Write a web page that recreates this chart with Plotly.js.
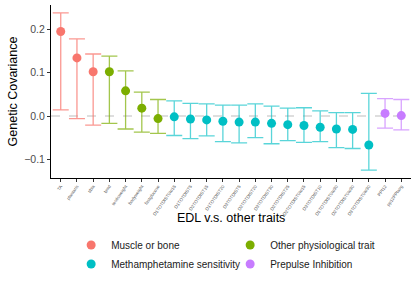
<!DOCTYPE html>
<html>
<head>
<meta charset="utf-8">
<script src="https://cdn.plot.ly/plotly-3.0.1.min.js"></script>
<style>html,body{margin:0;padding:0;background:#fff;}#chart{width:415px;height:291px;}</style>
</head>
<body>
<div id="chart"></div>
<script>
// ---- data ----
var traits = ["TA", "plantaris", "tibia", "bmd", "testisweight", "bodyweight", "fastglucose",
  "D1TOTDIST0to15", "D1TOTDIST5", "D2TOTDIST15", "D1TOTDIST20", "D3TOTDIST5", "D2TOTDIST20",
  "D3TOTDIST30", "D2TOTDIST25", "D2TOTDIST0to15", "D3TOTDIST10", "D1TOTDIST0to30",
  "D2TOTDIST0to30", "D3TOTDIST0to30", "PPI12", "pp12PPIavg"];
var groups = ["Muscle or bone", "Muscle or bone", "Muscle or bone",
  "Other physiological trait", "Other physiological trait", "Other physiological trait", "Other physiological trait",
  "Methamphetamine sensitivity", "Methamphetamine sensitivity", "Methamphetamine sensitivity",
  "Methamphetamine sensitivity", "Methamphetamine sensitivity", "Methamphetamine sensitivity",
  "Methamphetamine sensitivity", "Methamphetamine sensitivity", "Methamphetamine sensitivity",
  "Methamphetamine sensitivity", "Methamphetamine sensitivity", "Methamphetamine sensitivity",
  "Methamphetamine sensitivity", "Prepulse Inhibition", "Prepulse Inhibition"];
var covariance = [0.195, 0.134, 0.102, 0.102, 0.058, 0.018, -0.006, -0.002, -0.007, -0.009,
  -0.012, -0.014, -0.014, -0.017, -0.020, -0.022, -0.026, -0.030, -0.031, -0.067, 0.006, 0.001];
var lower = [0.014, -0.006, -0.021, -0.017, -0.030, -0.037, -0.040, -0.045, -0.052, -0.046,
  -0.059, -0.062, -0.050, -0.064, -0.057, -0.061, -0.059, -0.073, -0.075, -0.125, -0.028, -0.032];
var upper = [0.238, 0.178, 0.143, 0.138, 0.104, 0.055, 0.038, 0.035, 0.029, 0.028,
  0.025, 0.025, 0.028, 0.023, 0.018, 0.019, 0.012, 0.008, 0.008, 0.052, 0.040, 0.038];
var groupOrder = ["Muscle or bone", "Other physiological trait", "Methamphetamine sensitivity", "Prepulse Inhibition"];
var yTicks = [-0.1, 0, 0.1, 0.2];

// ---- styles ----
var pointColors = {
  "Muscle or bone": "#F8766D",
  "Other physiological trait": "#7CAE00",
  "Methamphetamine sensitivity": "#00BFC4",
  "Prepulse Inhibition": "#C77CFF"
};
var barColors = {
  "Muscle or bone": "rgba(248,118,109,0.75)",
  "Other physiological trait": "rgba(124,174,0,0.7)",
  "Methamphetamine sensitivity": "rgba(0,191,196,0.65)",
  "Prepulse Inhibition": "rgba(199,124,255,0.7)"
};

var traces = groupOrder.map(function (g) {
  var xs = [], ys = [], ep = [], em = [];
  for (var i = 0; i < traits.length; i++) {
    if (groups[i] === g) {
      xs.push(traits[i]);
      ys.push(covariance[i]);
      ep.push(upper[i] - covariance[i]);
      em.push(covariance[i] - lower[i]);
    }
  }
  return {
    type: "scatter", mode: "markers", name: g, x: xs, y: ys,
    marker: {color: pointColors[g], size: 9},
    error_y: {type: "data", symmetric: false, array: ep, arrayminus: em,
      color: barColors[g], thickness: 1.3, width: 8},
    hoverinfo: "x+y"
  };
});

var font = "Liberation Sans, Arial, Helvetica, sans-serif";
var layout = {
  width: 415, height: 291,
  margin: {l: 51, r: 4, t: 5, b: 113},
  paper_bgcolor: "#fff", plot_bgcolor: "#fff",
  font: {family: font, color: "#1a1a1a"},
  showlegend: true,
  legend: {orientation: "h", xref: "paper", x: 0.056, xanchor: "left",
    yref: "container", y: 0.1254, yanchor: "middle",
    font: {size: 10, family: font, color: "#1a1a1a"},
    entrywidth: 114, entrywidthmode: "pixels", tracegroupgap: 0,
    traceorder: "normal"},
  xaxis: {
    type: "category", categoryorder: "array", categoryarray: traits,
    range: [-0.6, 21.6], showgrid: false, zeroline: false,
    showline: true, linecolor: "#000", linewidth: 1,
    ticks: "outside", ticklen: 3, tickcolor: "#333", tickwidth: 1,
    tickangle: -55, tickfont: {size: 4.5, color: "#5a5a5a", family: font},
    automargin: false
  },
  yaxis: {
    range: [-0.143, 0.256], showgrid: false, zeroline: false,
    showline: true, linecolor: "#000", linewidth: 1,
    ticks: "outside", ticklen: 3, tickcolor: "#333", tickwidth: 1,
    tickvals: yTicks, ticktext: yTicks.map(function (v) { return v === 0 ? "0.0" : (v < 0 ? "\u2212" : "") + Math.abs(v).toFixed(1); }),
    tickfont: {size: 10.5, color: "#4D4D4D", family: font},
    title: {text: "Genetic Covariance", font: {size: 12.5, color: "#000"}, standoff: 3},
    automargin: false
  },
  annotations: [{text: "EDL v.s. other traits", xref: "paper", yref: "paper", x: 0.5, y: -0.231,
    xanchor: "center", yanchor: "middle", showarrow: false, font: {size: 12.5, color: "#000", family: font}}],
  shapes: [{type: "line", xref: "paper", yref: "y", x0: 0, x1: 1, y0: 0, y1: 0,
    line: {color: "#BDBDBD", width: 1, dash: "dash"}, layer: "below"}]
};

Plotly.newPlot("chart", traces, layout, {displayModeBar: false, staticPlot: true});
</script>
</body>
</html>
